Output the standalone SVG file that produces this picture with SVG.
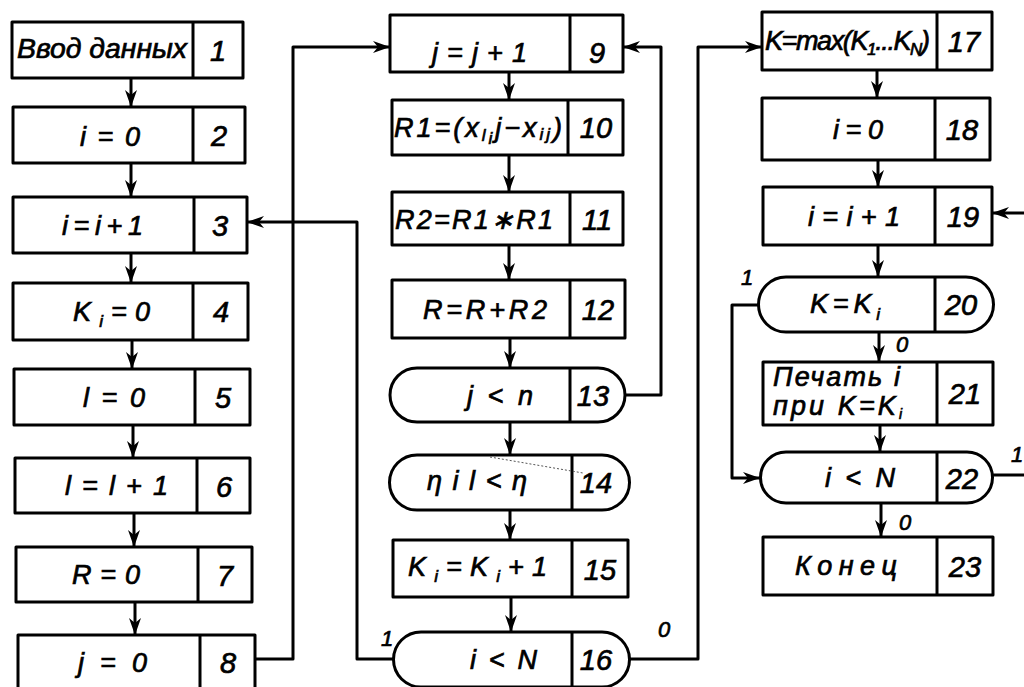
<svg xmlns="http://www.w3.org/2000/svg" width="1024" height="687" viewBox="0 0 1024 687">
<style>
.b{fill:#fff;stroke:#000;stroke-width:3;stroke-linejoin:round}
.d{fill:none;stroke:#000;stroke-width:3}
.c{fill:none;stroke:#000;stroke-width:3;stroke-linejoin:round}
text{font-family:"Liberation Sans",Arial,sans-serif;font-style:italic;font-size:27px;fill:#000;stroke:#000;stroke-width:0.7}
.n{text-anchor:middle;font-size:29px}
.l{font-size:22px}
.s{font-size:17px}
</style>
<defs>
<marker id="a" markerUnits="userSpaceOnUse" markerWidth="18" markerHeight="12" refX="17" refY="6" orient="auto">
<path d="M0,0 L17,6 L0,12 L5,6 z" fill="#000"/>
</marker>
</defs>
<rect width="1024" height="687" fill="#fff"/>

<g id="connectors">
<path class="c" d="M131,78 V107" marker-end="url(#a)"/>
<path class="c" d="M131,163 V197" marker-end="url(#a)"/>
<path class="c" d="M131,253 V283" marker-end="url(#a)"/>
<path class="c" d="M132,340 V369" marker-end="url(#a)"/>
<path class="c" d="M133,425 V458" marker-end="url(#a)"/>
<path class="c" d="M134,513 V547" marker-end="url(#a)"/>
<path class="c" d="M135,602 V635" marker-end="url(#a)"/>
<path class="c" d="M255,659 H293 V47 H390" marker-end="url(#a)"/>
<path class="c" d="M393,659 H357 V222 H247" marker-end="url(#a)"/>
<path class="c" d="M509,72 V100" marker-end="url(#a)"/>
<path class="c" d="M509,155 V192" marker-end="url(#a)"/>
<path class="c" d="M509,245 V280" marker-end="url(#a)"/>
<path class="c" d="M510,338 V368" marker-end="url(#a)"/>
<path class="c" d="M510,422 V455" marker-end="url(#a)"/>
<path class="c" d="M510,510 V540" marker-end="url(#a)"/>
<path class="c" d="M511,597 V632" marker-end="url(#a)"/>
<path class="c" d="M625,395 H661 V47 H623" marker-end="url(#a)"/>
<path class="c" d="M630,659 H698 V47 H762" marker-end="url(#a)"/>
<path class="c" d="M877,70 V98" marker-end="url(#a)"/>
<path class="c" d="M878,160 V187" marker-end="url(#a)"/>
<path class="c" d="M878,245 V277" marker-end="url(#a)"/>
<path class="c" d="M879,332 V362" marker-end="url(#a)"/>
<path class="c" d="M880,425 V452" marker-end="url(#a)"/>
<path class="c" d="M881,503 V537" marker-end="url(#a)"/>
<path class="c" d="M758,305 H732 V478 H760" marker-end="url(#a)"/>
<path class="c" d="M993,475 H1024"/>
<path class="c" d="M1024,213 H992" marker-end="url(#a)"/>
<text class="l" x="381" y="646">1</text>
<text class="l" x="658" y="637">0</text>
<text class="l" x="741" y="285">1</text>
<text class="l" x="896" y="352">0</text>
<text class="l" x="899" y="530">0</text>
<text class="l" x="1011" y="462">1</text>
</g>

<g id="n1"><rect class="b" x="12" y="22" width="231" height="56"/><line class="d" x1="193" y1="22" x2="193" y2="78"/>
<text x="17" y="58" font-size="25" textLength="170" lengthAdjust="spacingAndGlyphs">Ввод данных</text><text class="n" x="218" y="61">1</text></g>
<g id="n2"><rect class="b" x="13" y="107" width="232" height="56"/><line class="d" x1="193" y1="107" x2="193" y2="163"/>
<text x="80" y="146" textLength="60">i=0</text><text class="n" x="219" y="146">2</text></g>
<g id="n3"><rect class="b" x="13" y="197" width="234" height="56"/><line class="d" x1="194" y1="197" x2="194" y2="253"/>
<text x="62" y="235" textLength="81">i=i+1</text><text class="n" x="220" y="236">3</text></g>
<g id="n4"><rect class="b" x="13" y="283" width="235" height="57"/><line class="d" x1="193" y1="283" x2="193" y2="340"/>
<text x="73" y="321" textLength="77">K<tspan class="s" dy="6">i</tspan><tspan dy="-6">=0</tspan></text><text class="n" x="221" y="322">4</text></g>
<g id="n5"><rect class="b" x="14" y="369" width="236" height="56"/><line class="d" x1="195" y1="369" x2="195" y2="425"/>
<text x="83" y="407" textLength="62">l=0</text><text class="n" x="223" y="408">5</text></g>
<g id="n6"><rect class="b" x="15" y="458" width="235" height="55"/><line class="d" x1="197" y1="458" x2="197" y2="513"/>
<text x="65" y="495" textLength="103">l=l+1</text><text class="n" x="224" y="497">6</text></g>
<g id="n7"><rect class="b" x="16" y="547" width="236" height="55"/><line class="d" x1="198" y1="547" x2="198" y2="602"/>
<text x="72" y="584" textLength="68">R=0</text><text class="n" x="225" y="586">7</text></g>
<g id="n8"><rect class="b" x="18" y="635" width="237" height="55"/><line class="d" x1="200" y1="635" x2="200" y2="690"/>
<text x="78" y="672" textLength="69">j=0</text><text class="n" x="228" y="673">8</text></g>

<g id="n9"><rect class="b" x="390" y="15" width="233" height="57"/><line class="d" x1="570" y1="15" x2="570" y2="72"/>
<text x="432" y="62" textLength="95">j=j+1</text><text class="n" x="597" y="63">9</text></g>
<g id="n10"><rect class="b" x="392" y="100" width="231" height="55"/><line class="d" x1="568" y1="100" x2="568" y2="155"/>
<text x="394" y="137" font-size="24" textLength="168">R1=(x<tspan class="s" dy="4">l</tspan><tspan class="s" dy="3">i</tspan><tspan dy="-7">j−x</tspan><tspan class="s" dy="3">ij</tspan><tspan dy="-3">)</tspan></text><text class="n" x="596" y="138">10</text></g>
<g id="n11"><rect class="b" x="392" y="192" width="231" height="53"/><line class="d" x1="570" y1="192" x2="570" y2="245"/>
<text x="395" y="229" textLength="158">R2=R1∗R1</text><text class="n" x="597" y="230">11</text></g>
<g id="n12"><rect class="b" x="392" y="280" width="233" height="58"/><line class="d" x1="570" y1="280" x2="570" y2="338"/>
<text x="423" y="319" textLength="124">R=R+R2</text><text class="n" x="598" y="320">12</text></g>
<g id="n13"><path class="b" d="M417,368 H598 A27,27 0 0 1 598,422 H417 A27,27 0 0 1 417,368 Z"/><line class="d" x1="570" y1="368" x2="570" y2="422"/>
<text x="467" y="405" textLength="66">j&lt;n</text><text class="n" x="593" y="406">13</text></g>
<g id="n14"><path class="b" d="M417,455 H602 A27,27 0 0 1 602,510 H417 A27,27 0 0 1 417,455 Z"/><line class="d" x1="572" y1="455" x2="572" y2="510"/>
<line x1="490" y1="457" x2="583" y2="473" stroke="#555" stroke-width="1" stroke-dasharray="2,2"/>
<text x="427" y="490" textLength="100">ηil&lt;η</text><text class="n" x="596" y="493">14</text></g>
<g id="n15"><rect class="b" x="393" y="540" width="235" height="57"/><line class="d" x1="572" y1="540" x2="572" y2="597"/>
<text x="408" y="576" textLength="139">K<tspan class="s" dy="6">i</tspan><tspan dy="-6">=K</tspan><tspan class="s" dy="6">i</tspan><tspan dy="-6">+1</tspan></text><text class="n" x="600" y="580">15</text></g>
<g id="n16"><path class="b" d="M421,632 H602 A27.5,27.5 0 0 1 602,687 H421 A27.5,27.5 0 0 1 421,632 Z"/><line class="d" x1="572" y1="632" x2="572" y2="687"/>
<text x="470" y="669" textLength="67">i&lt;N</text><text class="n" x="596" y="670">16</text></g>

<g id="n17"><rect class="b" x="762" y="12" width="230" height="58"/><line class="d" x1="937" y1="12" x2="937" y2="70"/>
<text x="765" y="50" font-size="24" textLength="165">K=max(K<tspan class="s" dy="5">1</tspan><tspan dy="-5">...K</tspan><tspan class="s" dy="5">N</tspan><tspan dy="-5">)</tspan></text><text class="n" x="964" y="52">17</text></g>
<g id="n18"><rect class="b" x="762" y="98" width="228" height="62"/><line class="d" x1="935" y1="98" x2="935" y2="160"/>
<text x="833" y="139" textLength="50">i=0</text><text class="n" x="962" y="140">18</text></g>
<g id="n19"><rect class="b" x="763" y="187" width="229" height="58"/><line class="d" x1="935" y1="187" x2="935" y2="245"/>
<text x="808" y="226" textLength="92">i=i+1</text><text class="n" x="963" y="227">19</text></g>
<g id="n20"><path class="b" d="M786,277 H966 A27.5,27.5 0 0 1 966,332 H786 A27.5,27.5 0 0 1 786,277 Z"/><line class="d" x1="935" y1="277" x2="935" y2="332"/>
<text x="810" y="313" textLength="70">K=K<tspan class="s" dy="7">i</tspan></text><text class="n" x="961" y="315">20</text></g>
<g id="n21"><rect class="b" x="763" y="362" width="230" height="63"/><line class="d" x1="937" y1="362" x2="937" y2="425"/>
<text x="773" y="386" font-size="19" textLength="127">Печать  i</text><text x="773" y="415" font-size="19" textLength="129">при K=K<tspan font-size="14" dy="4">i</tspan></text><text class="n" x="965" y="404">21</text></g>
<g id="n22"><path class="b" d="M786,452 H967 A25.5,25.5 0 0 1 967,503 H786 A25.5,25.5 0 0 1 786,452 Z"/><line class="d" x1="937" y1="452" x2="937" y2="503"/>
<text x="825" y="487" textLength="70">i&lt;N</text><text class="n" x="962" y="489">22</text></g>
<g id="n23"><rect class="b" x="763" y="537" width="230" height="58"/><line class="d" x1="937" y1="537" x2="937" y2="595"/>
<text x="795" y="575" textLength="102">Конец</text><text class="n" x="965" y="577">23</text></g>
</svg>
